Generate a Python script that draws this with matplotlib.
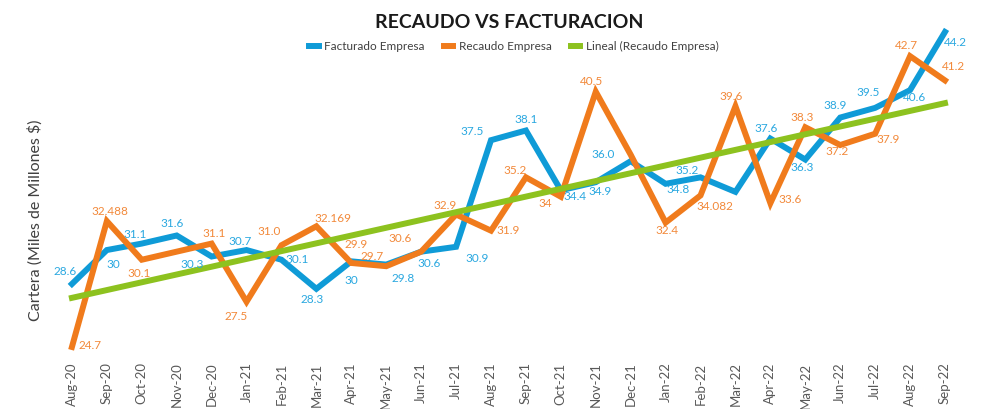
import numpy as np
import matplotlib.pyplot as plt

# Datos
meses = ['Aug-20', 'Sep-20', 'Oct-20', 'Nov-20', 'Dec-20', 'Jan-21', 'Feb-21', 'Mar-21',
         'Apr-21', 'May-21', 'Jun-21', 'Jul-21', 'Aug-21', 'Sep-21', 'Oct-21', 'Nov-21',
         'Dec-21', 'Jan-22', 'Feb-22', 'Mar-22', 'Apr-22', 'May-22', 'Jun-22', 'Jul-22',
         'Aug-22', 'Sep-22']
facturado = [28.6, 30.7, 31.1, 31.6, 30.3, 30.7, 30.1, 28.3, 30.0, 29.8, 30.6, 30.9, 37.5,
             38.1, 34.4, 34.9, 36.2, 34.8, 35.2, 34.3, 37.6, 36.3, 38.9, 39.5, 40.6, 44.2]
recaudo = [24.7, 32.488, 30.1, 30.6, 31.1, 27.5, 31.0, 32.169, 29.9, 29.7, 30.6, 32.9, 31.9,
           35.2, 34.0, 40.5, 36.6, 32.4, 34.082, 39.6, 33.6, 38.3, 37.2, 37.9, 42.7, 41.2]
etiq_fact = ['28.6', '30', '31.1', '31.6', '30.3', '30.7', '30.1', '28.3', '30', '29.8', '30.6',
             '30.9', '37.5', '38.1', '34.4', '34.9', '36.0', '34.8', '35.2', '', '37.6', '36.3',
             '38.9', '39.5', '40.6', '44.2']
etiq_rec = ['24.7', '32.488', '30.1', '', '31.1', '27.5', '31.0', '32.169', '29.9', '29.7',
            '30.6', '32.9', '31.9', '35.2', '34', '40.5', '', '32.4', '34.082', '39.6', '33.6',
            '38.3', '37.2', '37.9', '42.7', '41.2']

# desplazamiento de etiquetas (pixeles)
off_fact = [(-7, 12), (6, -14), (-7, 9), (-5, 12), (-19, -8), (-6, 9), (16, 0), (-4, -11),
            (0, -19), (17, -14), (8, -12), (21, -12), (-19, 9), (0, 11), (14, -6), (4, -9),
            (-28, 7), (12, -6), (-13, 7), (0, 0), (-4, 10), (-3, -8), (-5, 12), (-7, 15),
            (4, -7), (10, -11)]
off_rec = [(18, 1), (3, 10), (-3, -14), (0, 0), (3, 10), (-10, -15), (-12, 14), (17, 8),
           (5, 18), (-14, 10), (-21, 13), (-11, 9), (17, 0), (-11, 7), (-16, -7), (-4, 10),
           (0, 0), (1, -8), (14, -11), (-4, 10), (20, 4), (-3, 10), (-3, -6), (13, -6),
           (-4, 11), (8, 14)]

azul = '#0f9bd7'
naranja = '#f07b1c'
verde = '#8dc21f'
azul_txt = '#2aa8e0'
naranja_txt = '#f2893a'

plt.rcParams['font.family'] = ['Lato', 'DejaVu Sans']

x = np.arange(len(meses))
coef = np.polyfit(x, recaudo, 1)
tendencia = np.polyval(coef, x)

fig = plt.figure(figsize=(9.83, 4.09), dpi=100)
ax = fig.add_axes([0.0554, 0.124, 0.9237, 0.8295])

ax.plot(x, facturado, color=azul, lw=4.3, solid_joinstyle='miter', label='Facturado Empresa')
ax.plot(x, recaudo, color=naranja, lw=4.3, solid_joinstyle='miter', label='Recaudo Empresa')
ax.plot(x, tendencia, color=verde, lw=4.3, label='Lineal (Recaudo Empresa)')

for i in range(len(x)):
    if etiq_fact[i]:
        ax.annotate(etiq_fact[i], (x[i], facturado[i]), xytext=off_fact[i],
                    textcoords='offset pixels', ha='center', va='center',
                    fontsize=8.5, color=azul_txt)
    if etiq_rec[i]:
        ax.annotate(etiq_rec[i], (x[i], recaudo[i]), xytext=off_rec[i],
                    textcoords='offset pixels', ha='center', va='center',
                    fontsize=8.5, color=naranja_txt)

ax.set_xlim(-0.5, len(x) - 0.5)
ax.set_ylim(24, 45)
ax.set_xticks(x)
ax.set_xticklabels(meses, rotation=90, fontsize=9.5, color='#595959')
ax.tick_params(axis='x', length=0, pad=3)
ax.set_yticks([])
for s in ax.spines.values():
    s.set_visible(False)

fig.text(0.0356, 0.462, 'Cartera (Miles de Millones $)', rotation=90, ha='center', va='center',
         fontsize=11.5, color='#404040')

fig.suptitle('RECAUDO VS FACTURACION', x=0.518, y=0.946, va='center', fontsize=14,
             fontweight='bold', color='#1a1a1a')
fig.legend(loc='center', bbox_to_anchor=(0.523, 0.887), ncol=3, frameon=False, fontsize=8.5,
           handlelength=0.8, handletextpad=0.5, columnspacing=1.6, labelcolor='#404040')

fig.savefig('out.png', dpi=100)
